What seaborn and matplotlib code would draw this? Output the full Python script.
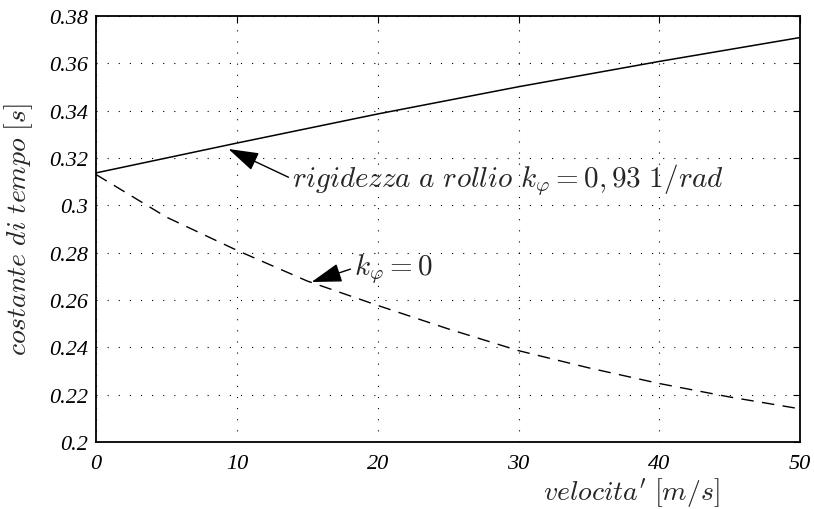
import numpy as np
import pandas as pd
import matplotlib
matplotlib.use("Agg")
import matplotlib.pyplot as plt
import seaborn as sns

velocita = [0, 10, 20, 30, 40, 50]
tau_rigid = [0.3137, 0.3263, 0.3386, 0.3501, 0.3608, 0.3709]
velocita_k0 = [0, 5, 10, 15, 20, 25, 30, 35, 40, 45, 50]
tau_k0 = [0.313, 0.295, 0.281, 0.268, 0.2577, 0.2478, 0.2386, 0.2313, 0.2247, 0.2190, 0.2140]
xticks = [0, 10, 20, 30, 40, 50]
yticks = [0.2, 0.22, 0.24, 0.26, 0.28, 0.3, 0.32, 0.34, 0.36, 0.38]
ytick_labels = ["0.2", "0.22", "0.24", "0.26", "0.28", "0.3", "0.32", "0.34", "0.36", "0.38"]

sns.set_style("white")
plt.rcParams["mathtext.fontset"] = "cm"
plt.rcParams["font.family"] = ["Liberation Serif", "DejaVu Serif"]

df1 = pd.DataFrame({"v": velocita, "t": tau_rigid})
df2 = pd.DataFrame({"v": velocita_k0, "t": tau_k0})

fig = plt.figure(figsize=(8.14, 5.10), dpi=100)
ax = fig.add_axes([0.118, 0.1314, 0.865, 0.8353])

sns.lineplot(data=df1, x="v", y="t", ax=ax, color="black", linewidth=1.1)
sns.lineplot(data=df2, x="v", y="t", ax=ax, color="black", linewidth=1.0,
             linestyle=(0, (9, 6)))

ax.set_xlim(0, 50)
ax.set_ylim(0.2, 0.38)
ax.set_xticks(xticks)
ax.set_yticks(yticks)
ax.set_xticklabels([str(t) for t in xticks], fontstyle="italic", fontsize=16)
ax.set_yticklabels(ytick_labels, fontstyle="italic", fontsize=16)
ax.tick_params(direction="in", length=5, width=0.8, top=True, right=True,
               colors="black")
ax.tick_params(axis="x", pad=9)
ax.tick_params(axis="y", pad=6)
ax.grid(True, color="black", linestyle=(0, (1, 9)), linewidth=0.8)
for s in ax.spines.values():
    s.set_color("black")
    s.set_linewidth(1.3)

ax.set_xlabel(r"$velocita'\ [m/s]$", fontsize=20, va="top")
ax.set_ylabel(r"$costante\ di\ tempo\ [s]$", fontsize=20)
ax.xaxis.set_label_coords(0.76, -0.078)
ax.yaxis.set_label_coords(-0.086, 0.5)

arrow = dict(arrowstyle="-|>,head_length=0.9,head_width=0.28",
             color="black", lw=1.0, shrinkA=0, shrinkB=0, relpos=(0, 0.5))
ax.annotate(r"$rigidezza\ a\ rollio\ k_{\varphi}=0,93\ 1/rad$",
            xy=(9.4, 0.3238), xytext=(13.9, 0.3112), fontsize=21,
            va="center", ha="left", arrowprops=arrow)
ax.annotate(r"$k_{\varphi}=0$",
            xy=(15.3, 0.2676), xytext=(18.3, 0.2735), fontsize=21,
            va="center", ha="left", arrowprops=arrow)

fig.savefig("out.png", dpi=100)
